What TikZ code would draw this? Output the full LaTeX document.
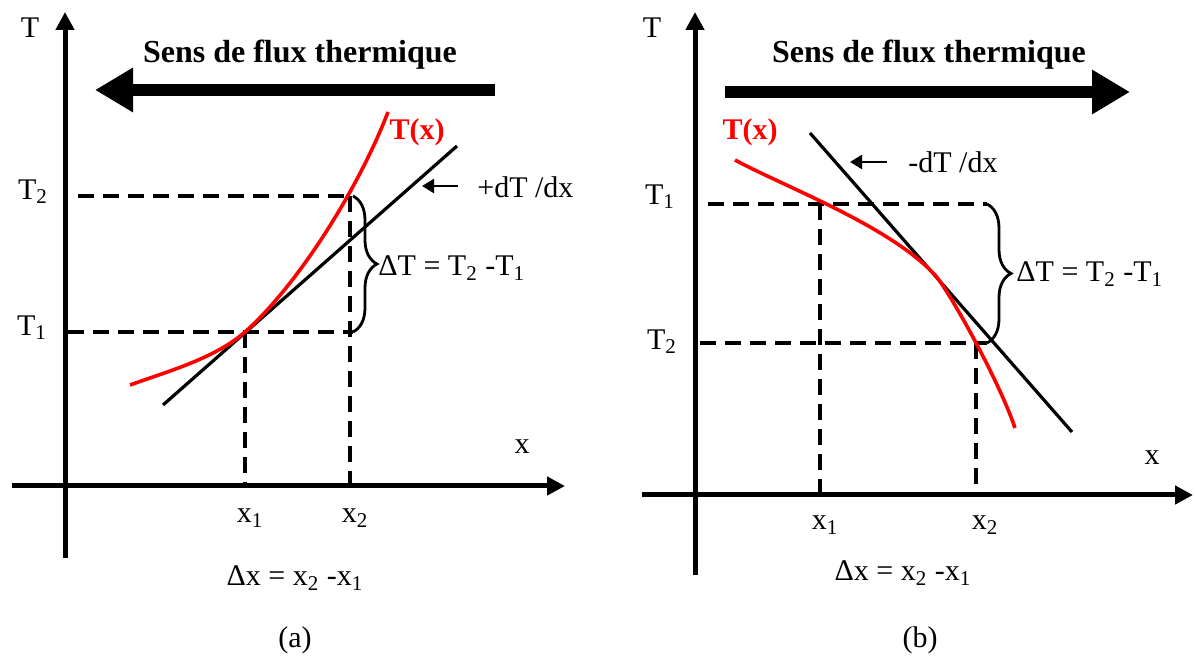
\documentclass[tikz,border=0pt]{standalone}
\usepackage{fontspec}
\setmainfont{Liberation Serif}
\usepackage{tikz}
\usetikzlibrary{arrows.meta, positioning, calc, decorations.pathreplacing}
\definecolor{curvered}{RGB}{255,0,0}
\tikzset{
  axis/.style={line width=2.5pt, -{Triangle[length=9pt,width=9pt]}},
  flux/.style={line width=6pt, -{Triangle[length=19pt,width=21pt]}},
  guide/.style={line width=1.6pt, dash pattern=on 8pt off 4.5pt},
  tangent/.style={line width=1.6pt},
  profile/.style={line width=1.8pt, color=curvered},
  pointer/.style={line width=1.2pt, -{Triangle[length=6pt,width=7pt]}},
  bracket/.style={line width=1.4pt, decorate, decoration={brace, amplitude=12pt}},
  lbl/.style={font=\fontsize{15}{18}\selectfont, inner sep=0pt},
  titletext/.style={font=\fontsize{16}{19}\selectfont\bfseries, inner sep=0pt},
  curvelbl/.style={font=\fontsize{15}{18}\selectfont\bfseries, text=curvered, inner sep=0pt}
}

\begin{document}
\begin{tikzpicture}[x=0.5pt, y=-0.5pt]
  \useasboundingbox (0,0) rectangle (1195,657);

  % (a)
  \coordinate (ya0) at (65,558);
  \coordinate (ya1) at (65,12);
  \coordinate (xa0) at (12,486);
  \coordinate (xa1) at (565,486);
  \draw[axis] (ya0) -- (ya1);
  \draw[axis] (xa0) -- (xa1);

  \node[lbl] (Ta) at (30,28) {T};
  \node[lbl] (xa) at (522,447) {x};
  \node[titletext] (titlea) at (300,55) {Sens de flux thermique};
  \coordinate (fa0) at (495,90);
  \coordinate (fa1) at (95,90);
  \draw[flux] (fa0) -- (fa1);

  \node[lbl] (T2a) at (33,192) {T\textsubscript{2}};
  \node[lbl] (T1a) at (32,328) {T\textsubscript{1}};
  \coordinate (h2a) at (78,196);
  \coordinate (h1a) at (68,332);
  \coordinate (b2a) at (353,196);
  \coordinate (b1a) at (353,332);
  \coordinate (p1a) at (245,332);
  \coordinate (p2a) at (350,196);
  \coordinate (q1a) at (245,486);
  \coordinate (q2a) at (350,486);
  \draw[guide] (h2a) -- (b2a);
  \draw[guide] (h1a) -- (b1a);
  \draw[guide] (p1a) -- (q1a);
  \draw[guide] (p2a) -- (q2a);
  \draw[bracket] (b2a) -- (b1a);
  \node[lbl, anchor=west] (dTa) at (378,268) {ΔT = T\textsubscript{2} -T\textsubscript{1}};

  \coordinate (ta0) at (163,405);
  \coordinate (ta1) at (457,146);
  \draw[tangent] (ta0) -- (ta1);
  \coordinate (ra0) at (130,385);
  \coordinate (ra1) at (388,112);
  \draw[profile] (ra0) .. controls (172,370) and (215,358) .. (p1a)
    .. controls (300,283) and (360,185) .. (ra1);
  \node[curvelbl] (Txa) at (417,132) {T(x)};

  \coordinate (sa0) at (458,186);
  \coordinate (sa1) at (422,186);
  \draw[pointer] (sa0) -- (sa1);
  \node[lbl, anchor=west] (slopea) at (477,187) {+dT /dx};

  \node[lbl] (x1a) at (250,518) {x\textsubscript{1}};
  \node[lbl] (x2a) at (355,518) {x\textsubscript{2}};
  \node[lbl] (dxa) at (295,578) {Δx = x\textsubscript{2} -x\textsubscript{1}};
  \node[lbl] (capa) at (295,640) {(a)};

  % (b)
  \coordinate (yb0) at (695,575);
  \coordinate (yb1) at (695,12);
  \coordinate (xb0) at (642,495);
  \coordinate (xb1) at (1193,495);
  \draw[axis] (yb0) -- (yb1);
  \draw[axis] (xb0) -- (xb1);

  \node[lbl] (Tb) at (652,28) {T};
  \node[lbl] (xb) at (1152,458) {x};
  \node[titletext] (titleb) at (929,55) {Sens de flux thermique};
  \coordinate (fb0) at (725,92);
  \coordinate (fb1) at (1130,92);
  \draw[flux] (fb0) -- (fb1);

  \node[lbl] (T1b) at (660,197) {T\textsubscript{1}};
  \node[lbl] (T2b) at (662,342) {T\textsubscript{2}};
  \coordinate (h1b) at (708,204);
  \coordinate (h2b) at (700,343);
  \coordinate (b1b) at (987,204);
  \coordinate (b2b) at (987,343);
  \coordinate (p1b) at (820,204);
  \coordinate (p2b) at (976,343);
  \coordinate (q1b) at (820,495);
  \coordinate (q2b) at (976,495);
  \draw[guide] (h1b) -- (b1b);
  \draw[guide] (h2b) -- (b2b);
  \draw[guide] (p1b) -- (q1b);
  \draw[guide] (p2b) -- (q2b);
  \draw[bracket] (b1b) -- (b2b);
  \node[lbl, anchor=west] (dTb) at (1016,274) {ΔT = T\textsubscript{2} -T\textsubscript{1}};

  \coordinate (tb0) at (810,133);
  \coordinate (tb1) at (1072,432);
  \draw[tangent] (tb0) -- (tb1);
  \coordinate (rb0) at (735,160);
  \coordinate (rbm) at (935,275);
  \coordinate (rb1) at (1015,428);
  \draw[profile] (rb0) .. controls (785,187) and (890,226) .. (rbm)
    .. controls (950,292) and (1000,383) .. (rb1);
  \node[curvelbl] (Txb) at (750,132) {T(x)};

  \coordinate (sb0) at (887,162);
  \coordinate (sb1) at (850,162);
  \draw[pointer] (sb0) -- (sb1);
  \node[lbl, anchor=west] (slopeb) at (908,162) {-dT /dx};

  \node[lbl] (x1b) at (825,525) {x\textsubscript{1}};
  \node[lbl] (x2b) at (985,525) {x\textsubscript{2}};
  \node[lbl] (dxb) at (903,573) {Δx = x\textsubscript{2} -x\textsubscript{1}};
  \node[lbl] (capb) at (920,640) {(b)};
\end{tikzpicture}
\end{document}
